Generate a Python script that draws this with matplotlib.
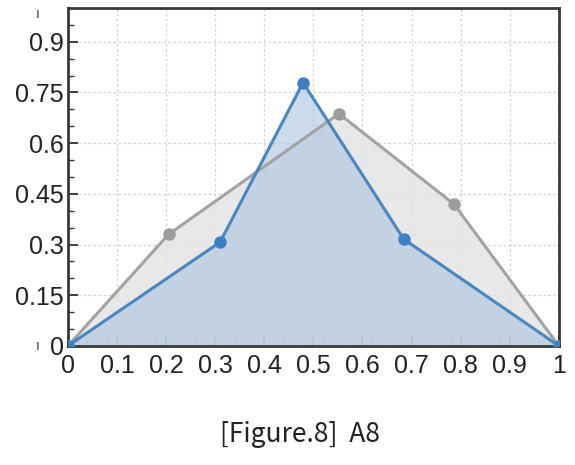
import matplotlib
matplotlib.use('Agg')
from matplotlib import pyplot as plt
from matplotlib.ticker import MultipleLocator
import numpy as np

# values
gray_x = [0.0, 0.205, 0.552, 0.786, 1.0]
gray_y = [0.0, 0.33, 0.687, 0.42, 0.0]
blue_x = [0.0, 0.31, 0.479, 0.684, 1.0]
blue_y = [0.0, 0.307, 0.779, 0.316, 0.0]
xticks = [0, 0.1, 0.2, 0.3, 0.4, 0.5, 0.6, 0.7, 0.8, 0.9, 1]
xlabels = ['0', '0.1', '0.2', '0.3', '0.4', '0.5', '0.6', '0.7', '0.8', '0.9', '1']
yticks = [0, 0.15, 0.3, 0.45, 0.6, 0.75, 0.9]
ylabels = ['0', '0.15', '0.3', '0.45', '0.6', '0.75', '0.9']
caption = '[Figure.8]  A8'

font = ['Liberation Sans Narrow', 'Liberation Sans', 'DejaVu Sans']

fig = plt.figure(figsize=(5.75, 4.65), dpi=100)
ax = fig.add_axes([0.118, 0.256, 0.854, 0.727])

ax.fill(gray_x, gray_y, color='#e4e4e4', alpha=0.85, zorder=1)
ax.plot(gray_x, gray_y, color='#a3a3a3', lw=2.2, marker='o', ms=8,
        mfc='#9c9c9c', mec='#9c9c9c', zorder=3)
ax.fill(blue_x, blue_y, color='#a9c4e0', alpha=0.6, zorder=2)
ax.plot(blue_x, blue_y, color='#4a86c0', lw=2.2, marker='o', ms=8,
        mfc='#3d80c4', mec='#3d80c4', zorder=4)

ax.set_xlim(0, 1)
ax.set_ylim(0, 1)
ax.set_xticks(xticks)
ax.set_xticklabels(xlabels)
ax.set_yticks(yticks)
ax.set_yticklabels(ylabels)
ax.xaxis.set_minor_locator(MultipleLocator(0.02))
ax.yaxis.set_minor_locator(MultipleLocator(0.05))
ax.tick_params(which='major', direction='in', length=7, width=1.3, color='#333333',
               labelsize=18, labelcolor='#222222', pad=3)
ax.tick_params(axis='x', which='major', pad=6)
ax.tick_params(which='minor', direction='in', length=4, width=1.0, color='#333333')
for lab in ax.get_xticklabels() + ax.get_yticklabels():
    lab.set_family(font)
ax.grid(True, which='major', color='#d2d2d2', lw=0.9, ls=(0, (2, 2)), zorder=0)
ax.set_axisbelow(True)
for s in ax.spines.values():
    s.set_linewidth(2.0)
    s.set_color('#3a3a3a')

fig.text(0.522, 0.065, caption, ha='center', va='center', fontsize=19,
         color='#222222', family=['Noto Sans CJK KR', 'DejaVu Sans'])
fig.text(0.066, 0.97, 'ı', ha='center', va='center', fontsize=10, color='#444444')
fig.text(0.066, 0.255, 'ı', ha='center', va='center', fontsize=10, color='#444444')

fig.savefig('out.png', dpi=100)
